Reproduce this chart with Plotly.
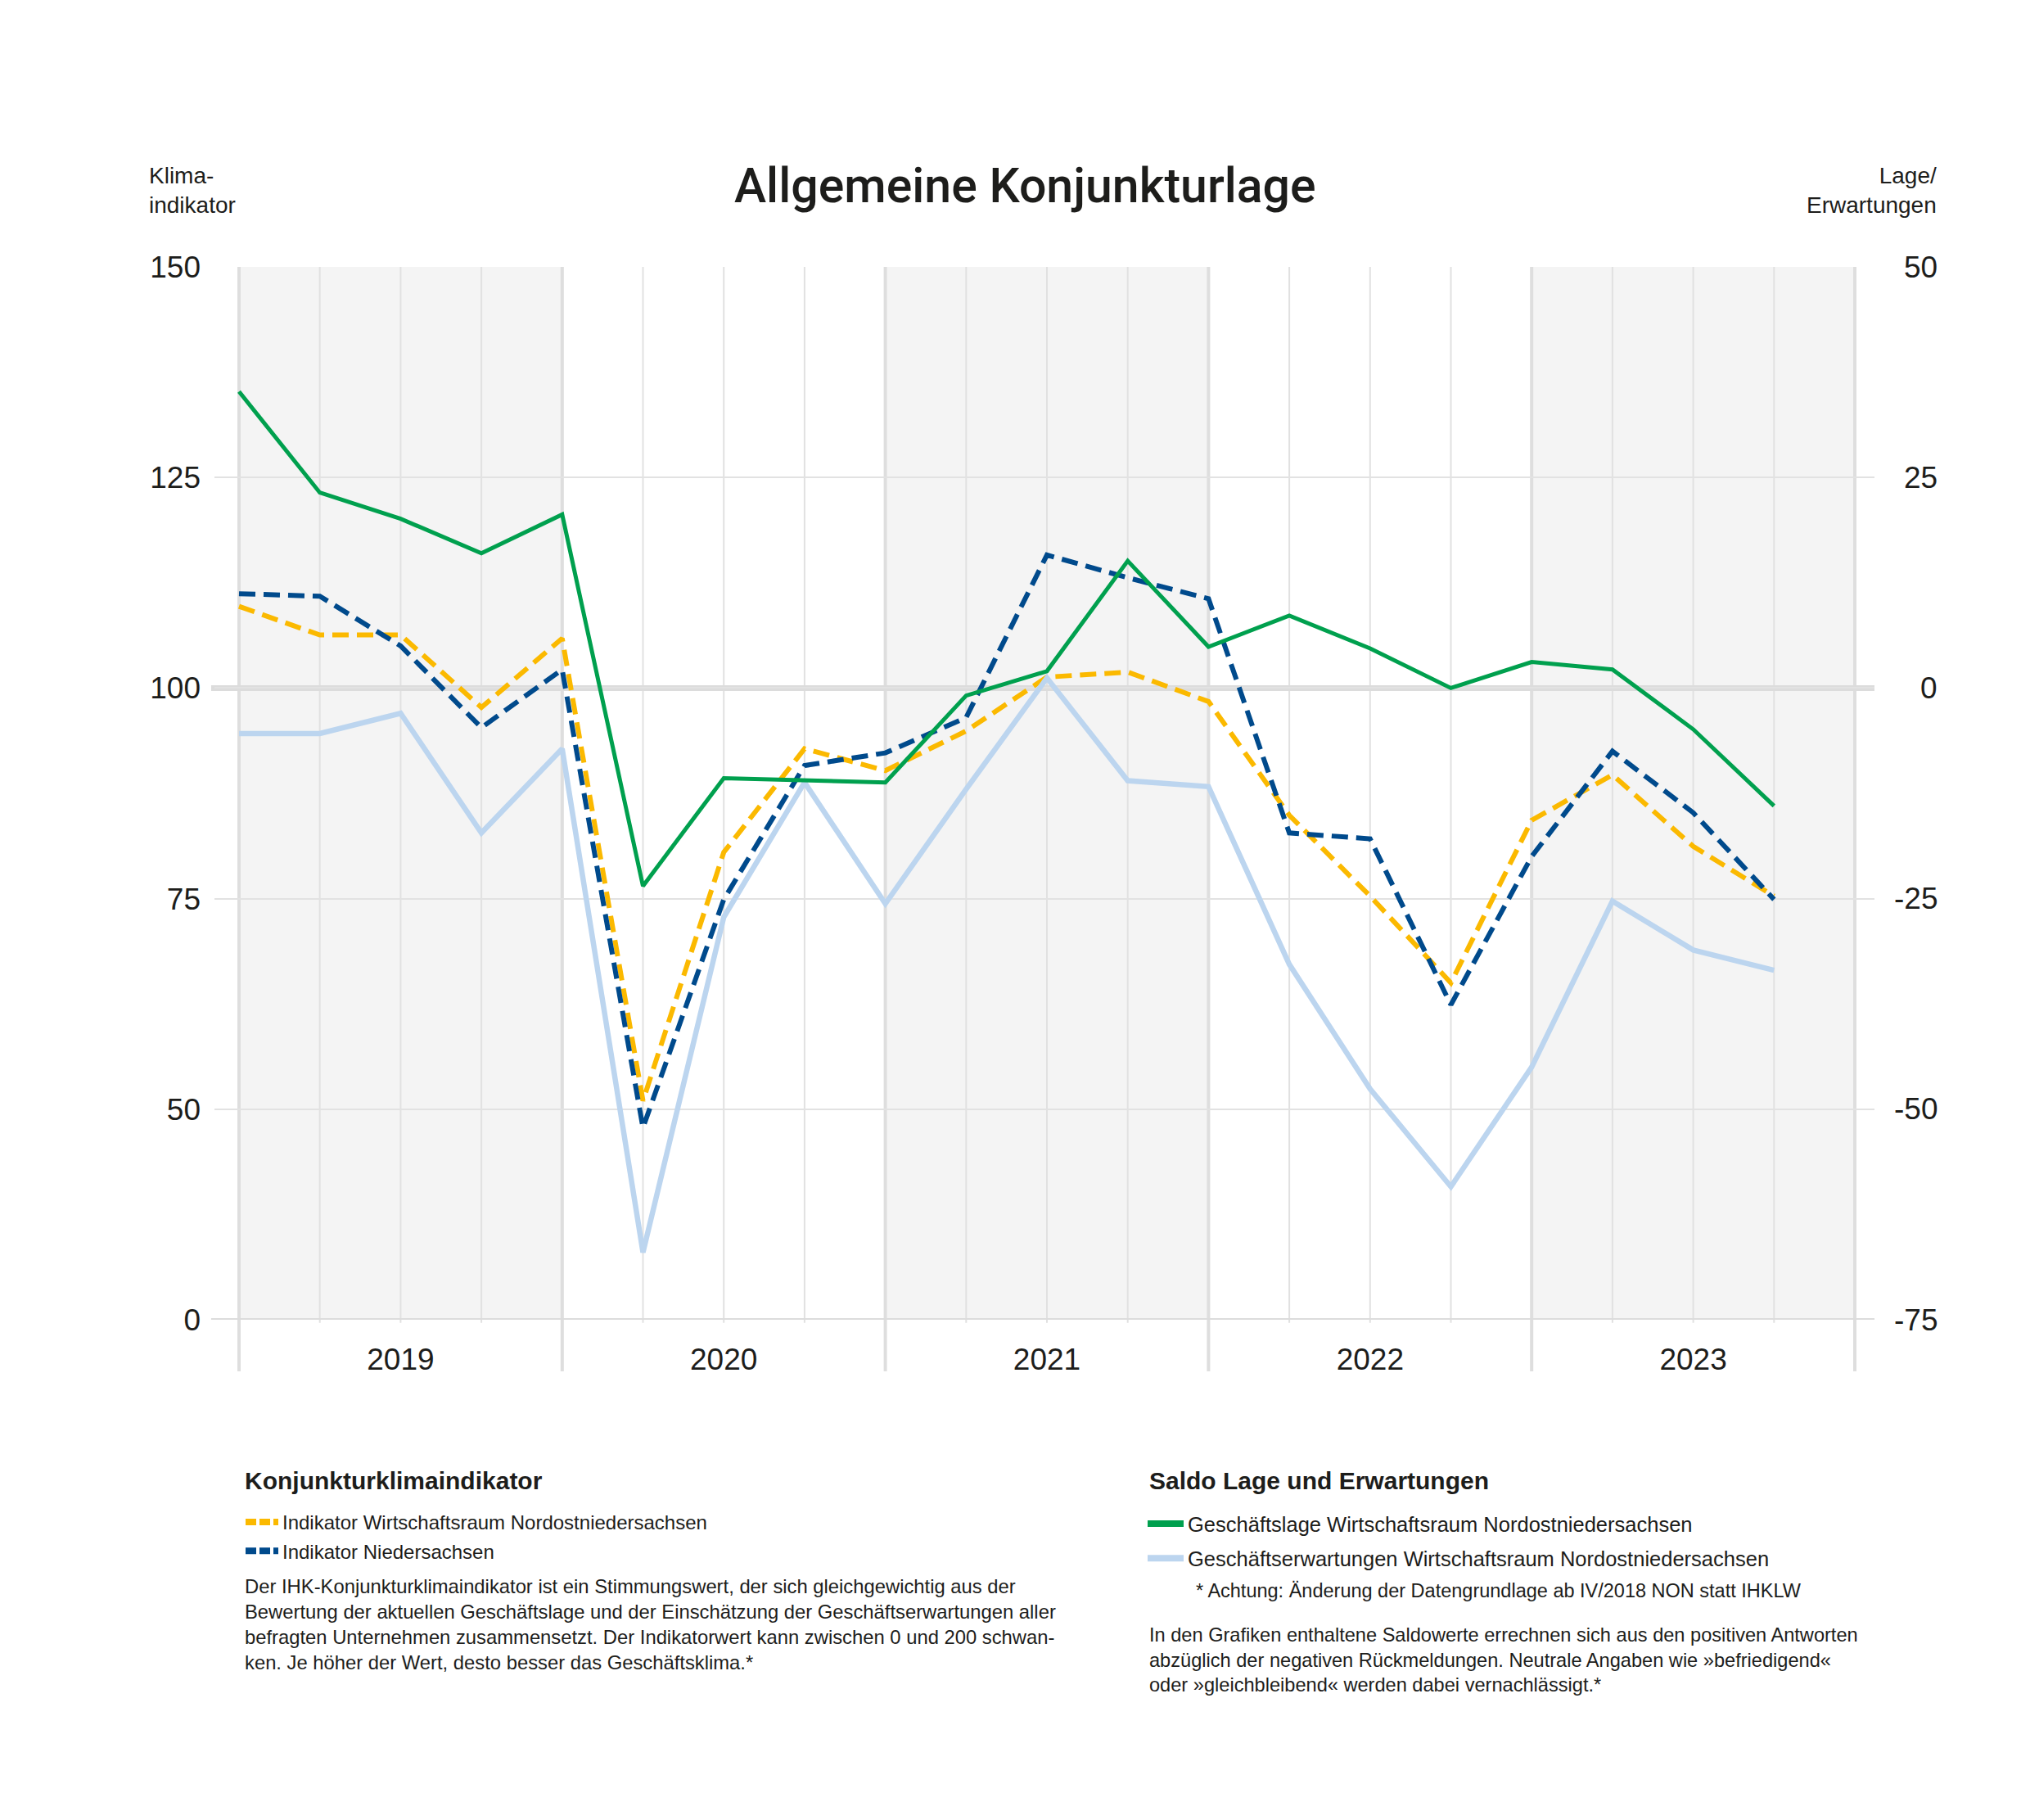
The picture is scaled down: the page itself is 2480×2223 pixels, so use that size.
import plotly.graph_objects as go

# ---------------- data ----------------
years = [2019, 2020, 2021, 2022, 2023]
quarters = [1, 2, 3, 4]
year_labels = ["2019", "2020", "2021", "2022", "2023"]

# Klimaindikator (left axis)
indikator_non = [109.7, 106.3, 106.3, 97.7, 105.9, 51.0, 80.5, 92.8, 90.2, 94.9,
                 101.3, 101.9, 98.4, 84.9, 75.3, 65.0, 84.3, 89.7, 81.2, 75.3]
indikator_nds = [111.2, 110.9, 105.0, 95.3, 102.2, 47.8, 74.9, 90.8, 92.3, 96.5,
                 115.8, 113.1, 110.6, 82.8, 82.1, 62.4, 80.0, 92.5, 85.2, 74.9]
# Saldo (right axis)
geschaeftslage = [35.2, 23.2, 20.1, 16.0, 20.6, -23.5, -10.7, -11.0, -11.2, -0.9,
                  2.0, 15.1, 4.9, 8.6, 4.7, 0.0, 3.1, 2.2, -4.9, -14.0]
erwartungen = [-5.4, -5.4, -3.0, -17.2, -7.2, -67.0, -27.2, -11.2, -25.6, -12.0,
               1.2, -11.0, -11.7, -32.8, -47.6, -59.2, -45.0, -25.3, -31.1, -33.5]

left_tickvals = [25, 50, 75, 100, 125, 150]
left_ticktext = ["0", "50", "75", "100", "125", "150"]
right_tickvals = [50, 25, 0, -25, -50, -75]

# x positions: start of each quarter
x_vals = [y + (q - 1) / 4 for y in years for q in quarters]

# ---------------- layout geometry (page pixels) ----------------
OFF = 8                      # default body margin of the html page
W, H = 2480 - 2 * OFF, 2223 - 2 * OFF
PL, PR, PT, PB = 262, 2290, 326, 1612   # plot area in page pixels
PX_PER_YEAR = (2266 - 292) / 5.0


def pxx(x):
    return (x - PL) / (PR - PL)


def pxy(y):
    return (PB - y) / (PB - PT)


FONT = "Liberation Sans"
TXT = "#1d1d1b"

C_GREEN = "#00a04e"
C_LBLUE = "#bcd5ef"
C_YELLOW = "#fbb900"
C_NAVY = "#004a8c"

fig = go.Figure()

# data traces
fig.add_trace(go.Scatter(x=x_vals, y=erwartungen, yaxis="y2", mode="lines",
                         line=dict(color=C_LBLUE, width=6.5), showlegend=False,
                         hoverinfo="skip"))
fig.add_trace(go.Scatter(x=x_vals, y=geschaeftslage, yaxis="y2", mode="lines",
                         line=dict(color=C_GREEN, width=5), showlegend=False,
                         hoverinfo="skip"))
fig.add_trace(go.Scatter(x=x_vals, y=indikator_non, yaxis="y", mode="lines",
                         line=dict(color=C_YELLOW, width=6, dash="20px,10px"),
                         showlegend=False, hoverinfo="skip"))
fig.add_trace(go.Scatter(x=x_vals, y=indikator_nds, yaxis="y", mode="lines",
                         line=dict(color=C_NAVY, width=6, dash="20px,10px"),
                         showlegend=False, hoverinfo="skip"))

# legend entries
fig.add_trace(go.Scatter(x=[None], y=[None], mode="lines", name="Indikator Wirtschaftsraum Nordostniedersachsen",
                         line=dict(color=C_YELLOW, width=8, dash="13px,4px"),
                         legend="legend", legendgroup="a"))
fig.add_trace(go.Scatter(x=[None], y=[None], mode="lines", name="Indikator Niedersachsen",
                         line=dict(color=C_NAVY, width=8, dash="13px,4px"),
                         legend="legend", legendgroup="b"))
fig.add_trace(go.Scatter(x=[None], y=[None], mode="lines", name="Geschäftslage Wirtschaftsraum Nordostniedersachsen",
                         line=dict(color=C_GREEN, width=8),
                         legend="legend2", legendgroup="c"))
fig.add_trace(go.Scatter(x=[None], y=[None], mode="lines", name="Geschäftserwartungen Wirtschaftsraum Nordostniedersachsen",
                         line=dict(color=C_LBLUE, width=8),
                         legend="legend2", legendgroup="d"))

shapes = []
# shaded years
for i, y in enumerate(years):
    if i % 2 == 0:
        shapes.append(dict(type="rect", xref="x", yref="paper", x0=y, x1=y + 1, y0=0, y1=1,
                           fillcolor="#f4f4f4", line=dict(width=0), layer="below"))
# quarter lines
for y in years:
    for q in quarters[1:]:
        xv = y + (q - 1) / 4
        shapes.append(dict(type="line", xref="x", yref="paper", x0=xv, x1=xv, y0=-0.003, y1=1,
                           line=dict(color="#e1e1e1", width=2), layer="between"))
# year boundary lines
for y in years + [years[-1] + 1]:
    shapes.append(dict(type="line", xref="x", yref="paper", x0=y, x1=y, y0=-63 / (PB - PT), y1=1,
                       line=dict(color="#dedede", width=4), layer="between"))
# thick reference lines
shapes.append(dict(type="line", xref="paper", yref="y", x0=-0.002, x1=1, y0=100, y1=100,
                   line=dict(color="#dcdcdc", width=7), layer="between"))
shapes.append(dict(type="line", xref="paper", yref="y", x0=-0.002, x1=1, y0=25, y1=25,
                   line=dict(color="#dcdcdc", width=4), layer="between"))

annotations = []
# title
annotations.append(dict(text="Allgemeine Konjunkturlage", xref="paper", yref="paper",
                        x=pxx(1252), y=pxy(226), xanchor="center", yanchor="middle",
                        showarrow=False, font=dict(family="Roboto", size=59, color=TXT, weight=500)))
# axis titles
annotations.append(dict(text="Klima-<br>indikator", xref="paper", yref="paper",
                        x=pxx(180), y=pxy(232), xanchor="left", yanchor="middle", align="left",
                        showarrow=False, font=dict(family=FONT, size=28, color=TXT)))
annotations.append(dict(text="Lage/<br>Erwartungen", xref="paper", yref="paper",
                        x=pxx(2368), y=pxy(232), xanchor="right", yanchor="middle", align="right",
                        showarrow=False, font=dict(family=FONT, size=28, color=TXT)))
# right tick labels
for v in right_tickvals:
    annotations.append(dict(text=str(v), xref="paper", yref="y2", x=pxx(2369), y=v,
                            xanchor="right", yanchor="middle", showarrow=False,
                            font=dict(family=FONT, size=37, color=TXT)))
# legend headings
annotations.append(dict(text="<b>Konjunkturklimaindikator</b>", xref="paper", yref="paper",
                        x=pxx(297), y=pxy(1808), xanchor="left", yanchor="middle",
                        showarrow=False, font=dict(family=FONT, size=30, color=TXT)))
annotations.append(dict(text="<b>Saldo Lage und Erwartungen</b>", xref="paper", yref="paper",
                        x=pxx(1402), y=pxy(1808), xanchor="left", yanchor="middle",
                        showarrow=False, font=dict(family=FONT, size=30, color=TXT)))
# paragraphs
left_par = ("Der IHK-Konjunkturklimaindikator ist ein Stimmungswert, der sich gleichgewichtig aus der<br>"
            "Bewertung der aktuellen Geschäftslage und der Einschätzung der Geschäftserwartungen aller<br>"
            "befragten Unternehmen zusammensetzt. Der Indikatorwert kann zwischen 0 und 200 schwan-<br>"
            "ken. Je höher der Wert, desto besser das Geschäftsklima.*")
annotations.append(dict(text=left_par, xref="paper", yref="paper", x=pxx(297), y=pxy(1922),
                        xanchor="left", yanchor="top", align="left", showarrow=False,
                        font=dict(family=FONT, size=23.8, color=TXT)))
annotations.append(dict(text="* Achtung: Änderung der Datengrundlage ab IV/2018 NON statt IHKLW",
                        xref="paper", yref="paper", x=pxx(1459), y=pxy(1943),
                        xanchor="left", yanchor="middle", align="left", showarrow=False,
                        font=dict(family=FONT, size=23.5, color=TXT)))
right_par = ("In den Grafiken enthaltene Saldowerte errechnen sich aus den positiven Antworten<br>"
             "abzüglich der negativen Rückmeldungen. Neutrale Angaben wie »befriedigend«<br>"
             "oder »gleichbleibend« werden dabei vernachlässigt.*")
annotations.append(dict(text=right_par, xref="paper", yref="paper", x=pxx(1402), y=pxy(1982),
                        xanchor="left", yanchor="top", align="left", showarrow=False,
                        font=dict(family=FONT, size=23.6, color=TXT)))

fig.update_layout(
    width=W, height=H, autosize=False,
    margin=dict(l=PL - OFF, r=W - (PR - OFF), t=PT - OFF, b=H - (PB - OFF), pad=0),
    paper_bgcolor="white", plot_bgcolor="white",
    font=dict(family=FONT, color=TXT),
    xaxis=dict(range=[years[0] - 30 / PX_PER_YEAR, years[-1] + 1 + 24 / PX_PER_YEAR],
               tickvals=[y + 0.5 for y in years], ticktext=year_labels,
               showgrid=False, zeroline=False, showline=False, ticks="",
               tickfont=dict(family=FONT, size=37, color=TXT), ticklabelstandoff=23,
               fixedrange=True),
    yaxis=dict(range=[25, 150], tickvals=left_tickvals, ticktext=left_ticktext,
               showgrid=True, gridcolor="#e2e2e2", gridwidth=2, zeroline=False,
               showline=False, ticks="", tickfont=dict(family=FONT, size=37, color=TXT),
               ticklabelstandoff=16, fixedrange=True),
    yaxis2=dict(range=[-75, 50], overlaying="y", side="right", showgrid=False,
                zeroline=False, showticklabels=False, ticks="", fixedrange=True),
    legend=dict(x=pxx(295), y=pxy(1837), xanchor="left", yanchor="top",
                font=dict(family=FONT, size=24, color=TXT), bgcolor="rgba(0,0,0,0)",
                traceorder="grouped", tracegroupgap=1, itemwidth=40),
    legend2=dict(x=pxx(1397), y=pxy(1838), xanchor="left", yanchor="top",
                 font=dict(family=FONT, size=25.5, color=TXT), bgcolor="rgba(0,0,0,0)",
                 traceorder="grouped", tracegroupgap=6, itemwidth=44),
    shapes=shapes,
    annotations=annotations,
    showlegend=True,
    hovermode=False,
)

fig.write_html("out.html", config={"displayModeBar": False})
